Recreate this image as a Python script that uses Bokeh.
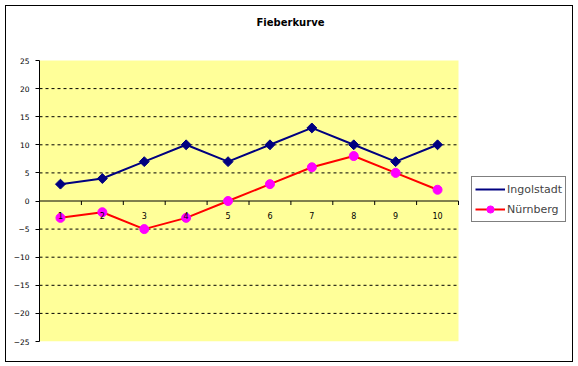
import math
from bokeh.plotting import figure
from bokeh.layouts import column
from bokeh.models import Legend, LegendItem, Range1d, FixedTicker, Label
from bokeh.core.properties import value
from bokeh.embed import file_html
from bokeh.resources import INLINE

categories = [1, 2, 3, 4, 5, 6, 7, 8, 9, 10]
category_labels = ["1", "2", "3", "4", "5", "6", "7", "8", "9", "10"]
ingolstadt = [3, 4, 7, 10, 7, 10, 13, 10, 7, 10]
nuernberg = [-3, -2, -5, -3, 0, 3, 6, 8, 5, 2]
y_ticks = [-25, -20, -15, -10, -5, 0, 5, 10, 15, 20, 25]
grid_levels = [-20, -15, -10, -5, 5, 10, 15, 20]
title_text = "Fieberkurve"

FONT = "DejaVu Sans"
Y_MIN, Y_MAX = -25, 25
X_MIN, X_MAX = categories[0] - 0.5, categories[-1] + 0.5
bounds = [c - 0.5 for c in categories] + [X_MAX]

# layout in pixels
PLOT_W, PLOT_H = 419, 281        # yellow plot area
FRAME_W, FRAME_H = 533, 335      # frame reaches the right and top edges
px_x = PLOT_W / (X_MAX - X_MIN)
px_y = PLOT_H / (Y_MAX - Y_MIN)

p = figure(width=566, height=355, output_backend="svg", toolbar_location=None,
           x_range=Range1d(X_MIN, X_MIN + FRAME_W / px_x),
           y_range=Range1d(Y_MIN, Y_MIN + FRAME_H / px_y),
           min_border_left=33, min_border_right=0, min_border_top=0, min_border_bottom=20,
           background_fill_color="white", border_fill_color="white",
           outline_line_color=None)

p.xaxis.visible = False
p.xgrid.visible = False
p.ygrid.visible = False

ya = p.yaxis[0]
ya.ticker = FixedTicker(ticks=y_ticks)
ya.bounds = (Y_MIN, Y_MAX)
ya.axis_line_color = "black"
ya.major_tick_line_color = "black"
ya.major_tick_out = 4
ya.major_tick_in = 0
ya.minor_tick_line_color = None
ya.major_label_standoff = 6
ya.major_label_text_font = FONT
ya.major_label_text_font_size = "7.5px"
ya.major_label_text_color = "black"

# plot area
p.quad(left=[X_MIN], right=[X_MAX], bottom=[Y_MIN], top=[Y_MAX],
       fill_color="#FFFF99", line_color=None)

# dashed gridlines
p.segment(x0=[X_MIN] * len(grid_levels), y0=grid_levels,
          x1=[X_MAX] * len(grid_levels), y1=grid_levels,
          line_color="black", line_width=1, line_dash="3 3")

# category axis at zero
p.segment(x0=[X_MIN], y0=[0], x1=[X_MAX], y1=[0], line_color="black", line_width=1)
tick_len = 4 / px_y
p.segment(x0=bounds, y0=[0] * len(bounds), x1=bounds, y1=[-tick_len] * len(bounds),
          line_color="black", line_width=1)

r1 = p.line(categories, ingolstadt, line_color="#000080", line_width=2)
m1 = p.scatter(categories, ingolstadt, marker="square", size=7, angle=math.pi / 4,
               fill_color="#000080", line_color="#000080")
r2 = p.line(categories, nuernberg, line_color="#FF0000", line_width=2)
m2 = p.scatter(categories, nuernberg, marker="circle", size=9,
               fill_color="#FF00FF", line_color="#FF00FF")

# legend-only diamond glyph (no data)
m1_leg = p.scatter(x=[], y=[], marker="diamond", size=11,
                   fill_color="#000080", line_color="#000080")

p.text(x=categories, y=[0] * len(categories), text=category_labels,
       text_font=value(FONT), text_font_size="8px", text_color="black",
       text_align="center", text_baseline="top", y_offset=11)

# chart title (centred over the whole chart)
title = Label(x=X_MIN + (290 - 39) / px_x, y=Y_MAX + (60 - 22) / px_y, text=title_text,
              text_font=FONT, text_font_size="10px", text_font_style="bold",
              text_color="black", text_align="center", text_baseline="middle")
p.add_layout(title)

legend = Legend(items=[LegendItem(label="Ingolstadt", renderers=[r1, m1_leg]),
                       LegendItem(label="Nürnberg", renderers=[r2, m2])],
                location=(432, 119), margin=0, padding=3, spacing=2,
                glyph_width=30, glyph_height=18, label_height=18, label_standoff=2,
                label_text_font=FONT, label_text_font_size="11px",
                border_line_color="black", border_line_width=1,
                background_fill_color="white", background_fill_alpha=1)
p.add_layout(legend, "center")

layout = column(p, styles={"border": "1px solid black", "margin-left": "5px", "margin-top": "5px"})

open("out.html", "w").write(file_html(layout, INLINE))
